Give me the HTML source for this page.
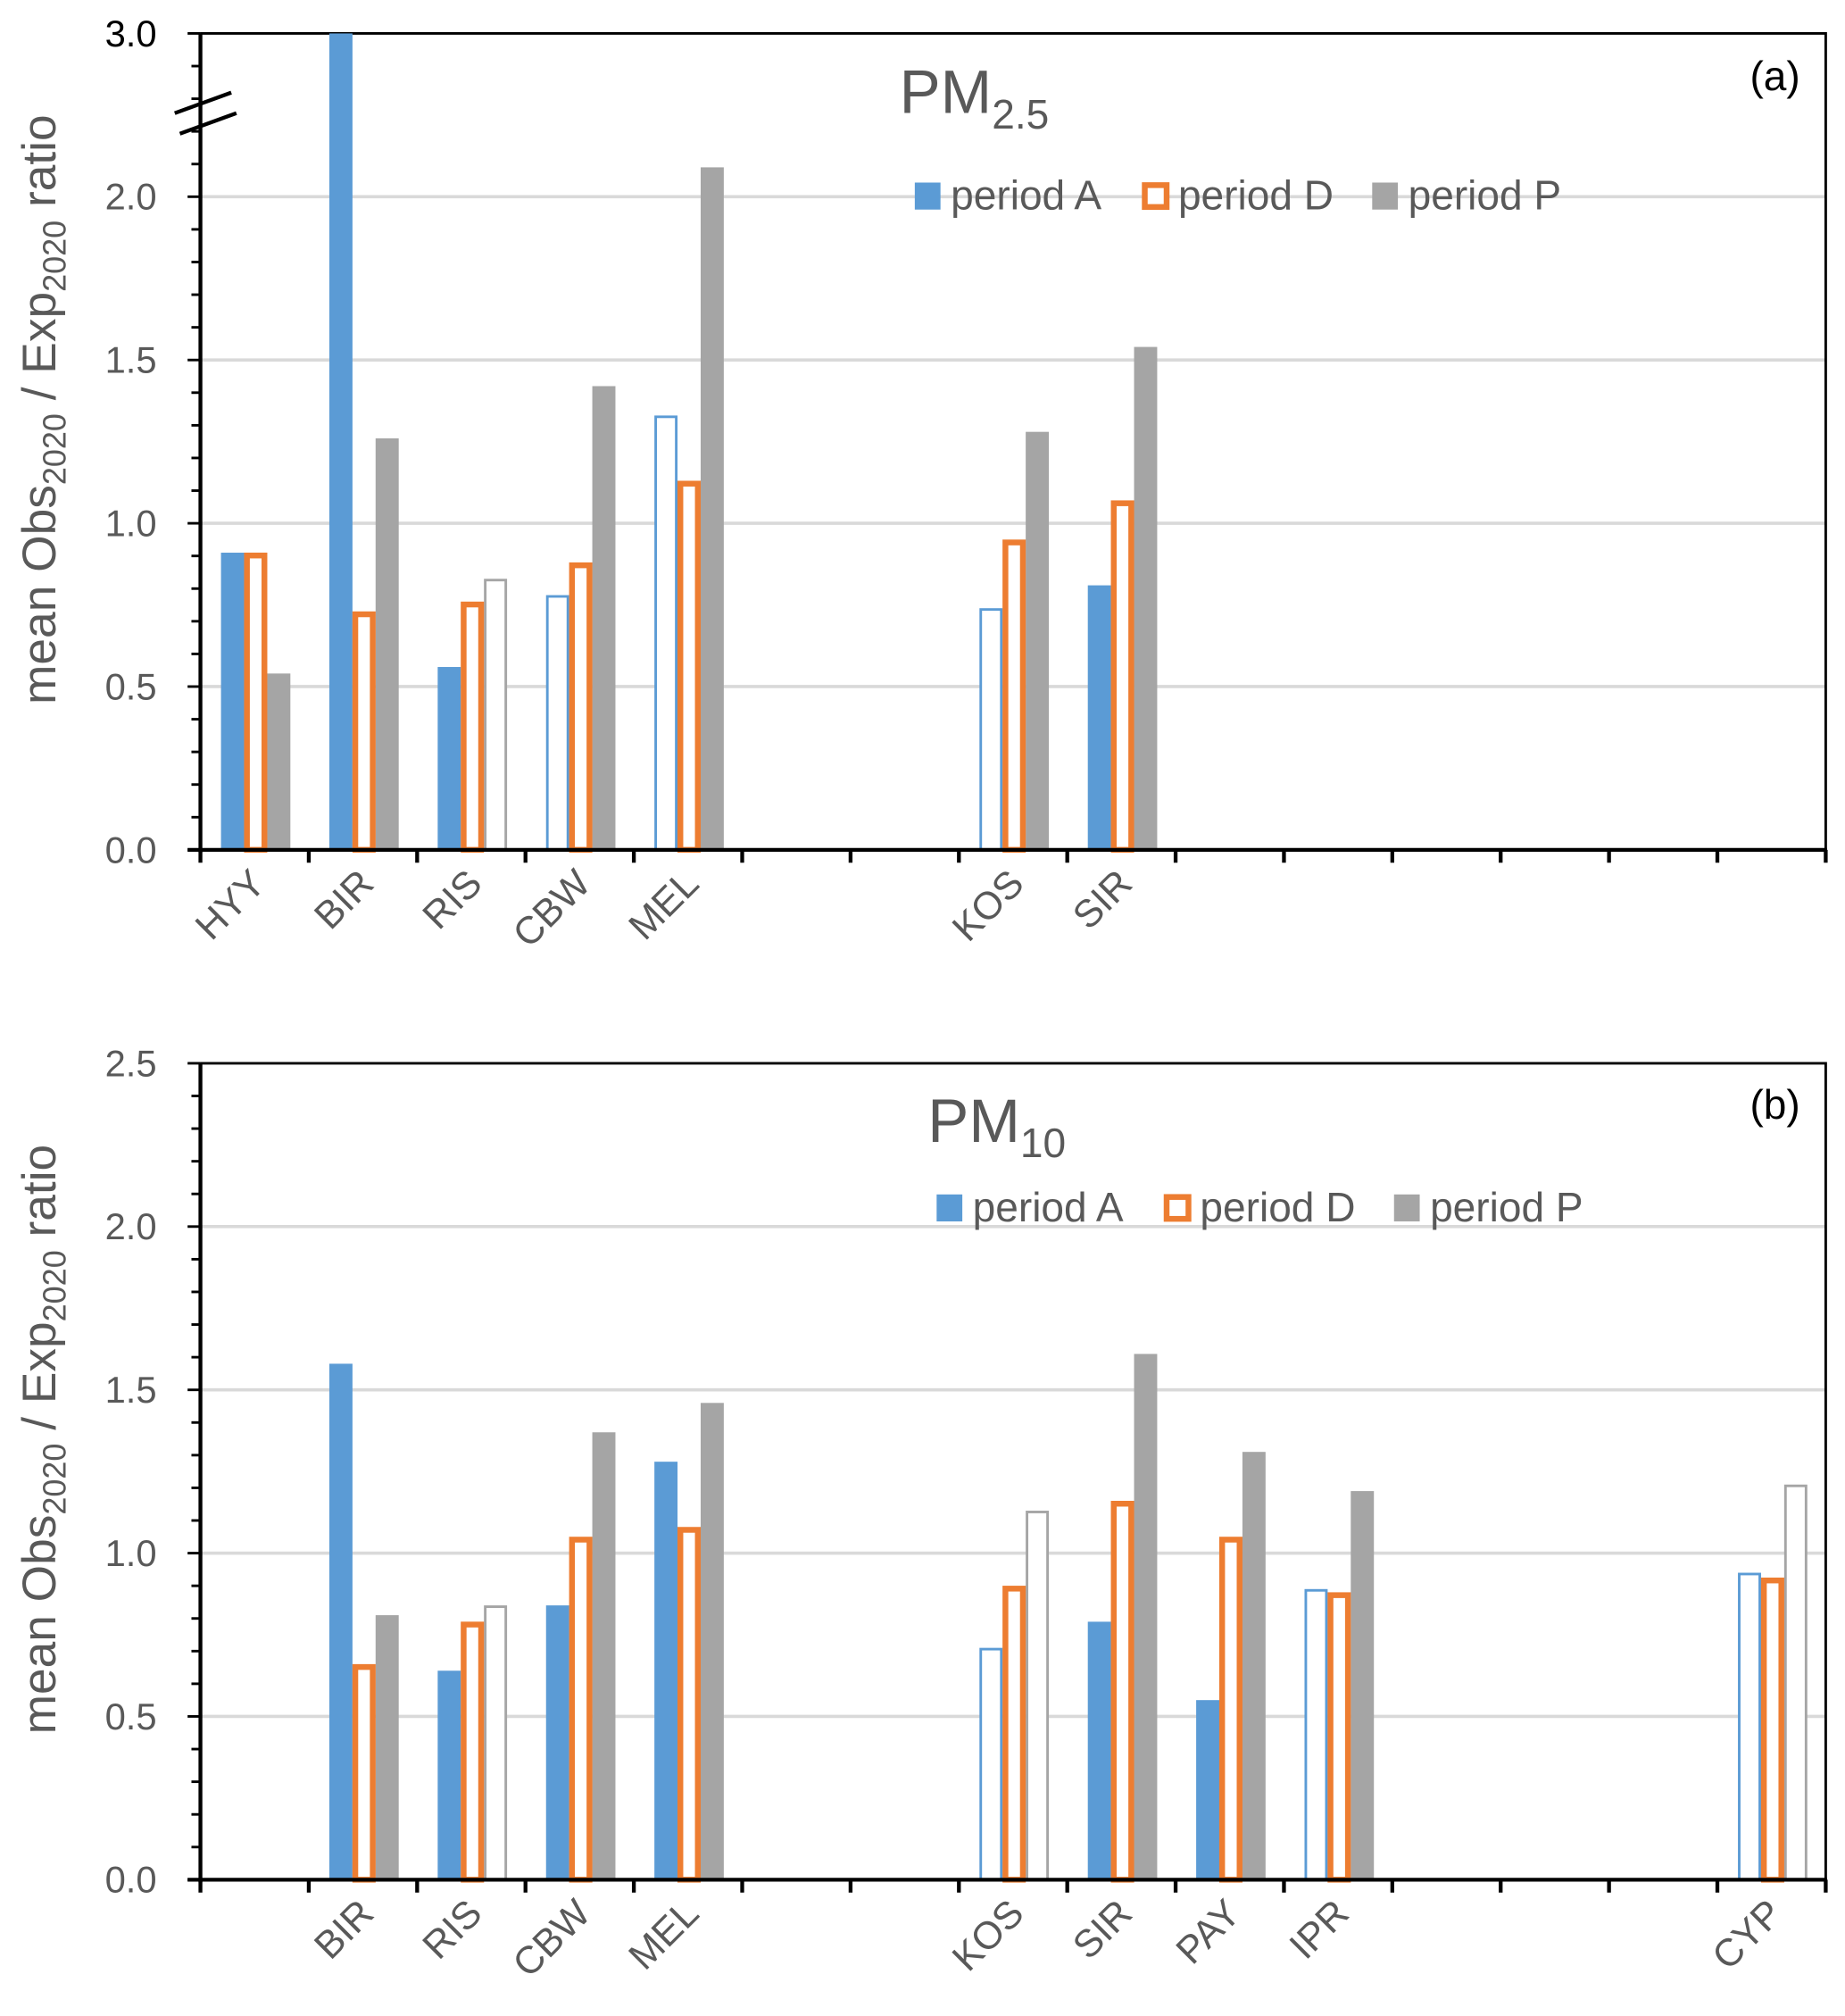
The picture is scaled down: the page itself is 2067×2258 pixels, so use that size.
<!DOCTYPE html>
<html><head><meta charset="utf-8">
<style>
html,body{margin:0;padding:0;background:#fff}
svg{display:block}
text{font-family:"Liberation Sans Narrow","Liberation Sans",sans-serif;fill:#595959}
</style></head>
<body>
<svg id="chart" width="2067" height="2258" viewBox="0 0 1436 1568" preserveAspectRatio="none" xmlns="http://www.w3.org/2000/svg">
</svg>
<script>
// Panel (a) PM2.5
const catsA = ["HYY","BIR","RIS","CBW","MEL","","","KOS","SIR","","","","","",""];
const aVals1 = [0.91,3.0,0.56,0.78,1.33,null,null,0.74,0.81,null,null,null,null,null,null];
const dVals1 = [0.91,0.73,0.76,0.88,1.13,null,null,0.95,1.07,null,null,null,null,null,null];
const pVals1 = [0.54,1.26,0.83,1.42,2.09,null,null,1.28,1.54,null,null,null,null,null,null];
const aHollow1 = [0,0,0,1,1,0,0,1,0,0,0,0,0,0,0];
const pHollow1 = [0,0,1,0,0,0,0,0,0,0,0,0,0,0,0];
const yTicks1 = ["0.0","0.5","1.0","1.5","2.0","3.0"];
// Panel (b) PM10
const catsB = ["","BIR","RIS","CBW","MEL","","","KOS","SIR","PAY","IPR","","","","CYP"];
const aVals2 = [null,1.58,0.64,0.84,1.28,null,null,0.71,0.79,0.55,0.89,null,null,null,0.94];
const dVals2 = [null,0.66,0.79,1.05,1.08,null,null,0.90,1.16,1.05,0.88,null,null,null,0.925];
const pVals2 = [null,0.81,0.84,1.37,1.46,null,null,1.13,1.61,1.31,1.19,null,null,null,1.21];
const aHollow2 = [0,0,0,0,0,0,0,1,0,0,1,0,0,0,1];
const pHollow2 = [0,0,1,0,0,0,0,1,0,0,0,0,0,0,1];
const yTicks2 = ["0.0","0.5","1.0","1.5","2.0","2.5"];

const NS="http://www.w3.org/2000/svg";
const svg=document.getElementById('chart');
function mk(tag,attrs,parent){const e=document.createElementNS(NS,tag);for(const k in attrs)e.setAttribute(k,attrs[k]);(parent||svg).appendChild(e);return e;}

function panel(o){
  const g=mk('g',{});
  
  
  const L=156,R=1421,top=o.top,base=o.base,per=(base-top)/2.5;
  const y=v=>base-Math.min(v,2.5)*per;
  const slot=(R-L)/15;
  const x=i=>L+slot*i;
  for(let v=0.5;v<2.49;v+=0.5){const l=mk('line',{x1:L,x2:R,y1:y(v),y2:y(v),stroke:'#d9d9d9','stroke-width':2.5},g);
    
    }
  const fr=mk('path',{d:`M${L},${top}H${R}V${base}`,fill:'none',stroke:'#000','stroke-width':2},g);
  
  
  for(let k=0;k<=25;k++){const yy=base-k*per/10;const major=k%5==0;
    mk('line',{x1:major?146:149,x2:L,y1:yy,y2:yy,stroke:'#000','stroke-width':2},g);}
  yTicksDraw(g,o.ticks,y,o.breakTop);
  const draw=(vals,hollow,color,ser,off)=>{vals.forEach((v,i)=>{if(v==null)return;
    const bx=x(i)+off,w=18,yy=o.breakTop&&v>2.5?top:y(v);
    let r;
    if(ser==='D'){r=mk('rect',{x:bx+2.2,y:yy+2.2,width:w-4.4,height:base-yy-2.2,fill:'#fff',stroke:color,'stroke-width':4.5},g);}
    else if(hollow[i]){r=mk('rect',{x:bx+1,y:yy+1,width:w-2,height:base-yy-1,fill:'#fff',stroke:color,'stroke-width':2},g);}
    else{r=mk('rect',{x:bx,y:yy,width:w,height:base-yy,fill:color},g);}
    
    
  });};
  draw(o.a,o.ah,'#5b9bd5','A',16);
  draw(o.p,o.ph,'#a5a5a5','P',52);
  draw(o.d,o.d.map(()=>1),'#ed7d31','D',34);
  const ax=mk('line',{x1:L,x2:L,y1:top,y2:base+2,stroke:'#000','stroke-width':3},g);
  
  
  const bx=mk('line',{x1:146,x2:R+1,y1:base,y2:base,stroke:'#000','stroke-width':3},g);
  
  
  for(let i=0;i<=15;i++)mk('line',{x1:x(i),x2:x(i),y1:base,y2:base+10,stroke:'#000','stroke-width':3},g);
  o.cats.forEach((c,i)=>{if(!c)return;const cx=x(i)+slot/2+10,cy=base+28;
    const t=mk('text',{x:cx,y:cy,'text-anchor':'end','font-size':30,transform:`rotate(-45 ${cx} ${cy})`},g);t.textContent=c;
    
    });
  const tcy=(top+base)/2-25;
  const yt=mk('text',{x:43,y:tcy,'text-anchor':'middle','font-size':37,transform:`rotate(-90 43 ${tcy})`},g);
  yt.innerHTML='mean Obs<tspan font-size="25" dy="8">2020</tspan><tspan dy="-8"> / Exp</tspan><tspan font-size="25" dy="8">2020</tspan><tspan dy="-8"> ratio</tspan>';
  
  
  const tt=mk('text',{x:o.tx,y:o.ty,'font-size':48},g);
  tt.innerHTML='PM<tspan font-size="32" dy="12">'+o.sub+'</tspan>';
  
  
  const pl=mk('text',{x:1362,y:o.ty-18,'font-size':32,style:'fill:#000'},g);pl.textContent=o.label;
  
  
  const lg=mk('g',{},g);
  
  
  const ents=[['period A','#5b9bd5',0],['period D','#ed7d31',177],['period P','#a5a5a5',356]];
  ents.forEach(([lab,col,dx])=>{const lx=o.lx+dx;
    const e=mk('g',{},lg);
    
    
    if(lab==='period D')mk('rect',{x:lx+2,y:o.ly+2,width:17,height:17,fill:'#fff',stroke:col,'stroke-width':4.5},e);
    else mk('rect',{x:lx,y:o.ly,width:20,height:21,fill:col},e);
    const t=mk('text',{x:lx+28,y:o.ly+21,'font-size':32},e);t.textContent=lab;});
}
function yTicksDraw(g,ticks,y,brk){
  ticks.forEach((t,k)=>{const yy=y(k*0.5);
    const e=mk('text',{x:122,y:yy+10,'text-anchor':'end','font-size':29},g);e.textContent=t;
    if(brk&&k==5)e.setAttribute('style','fill:#000');
    
    });
  if(brk){
    const b=mk('g',{},g);
    
    
    mk('line',{x1:140,y1:98,x2:170,y2:80,stroke:'#fff','stroke-width':12},b);
    mk('line',{x1:136,y1:88,x2:180,y2:72,stroke:'#000','stroke-width':3},b);
    mk('line',{x1:140,y1:104,x2:184,y2:88,stroke:'#000','stroke-width':3},b);
  }
}
panel({name:'panel-a-pm25',top:26,base:661,ticks:yTicks1,breakTop:true,cats:catsA,a:aVals1,d:dVals1,p:pVals1,ah:aHollow1,ph:pHollow1,tx:700,ty:88,sub:'2.5',label:'(a)',lx:712,ly:142});
panel({name:'panel-b-pm10',top:827,base:1462,ticks:yTicks2,breakTop:false,cats:catsB,a:aVals2,d:dVals2,p:pVals2,ah:aHollow2,ph:pHollow2,tx:722,ty:888,sub:'10',label:'(b)',lx:729,ly:929});
</script>
</body></html>
